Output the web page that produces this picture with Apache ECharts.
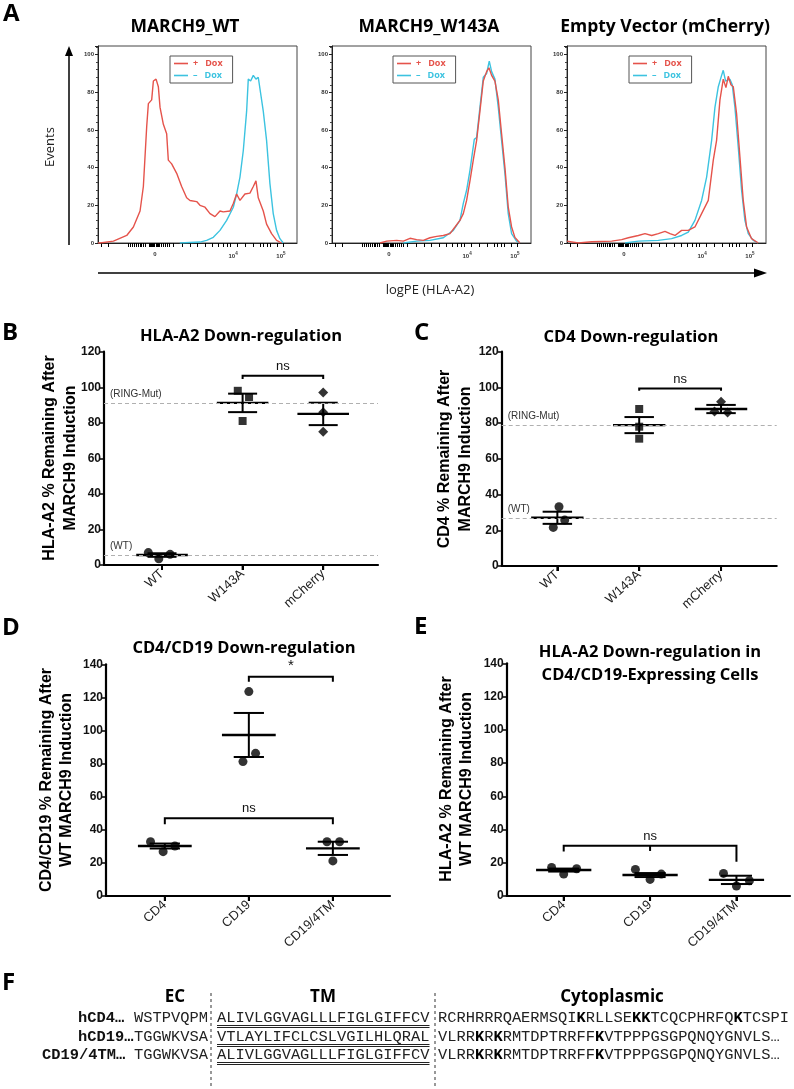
<!DOCTYPE html>
<html><head><meta charset="utf-8">
<script src="https://cdn.jsdelivr.net/npm/echarts@6/dist/echarts.min.js"></script>
<style>html,body{margin:0;padding:0;background:#fff}#c{width:794px;height:1089px}</style>
</head><body><div id="c"></div>
<script>
// ================= DATA =================
// Panel A: flow histograms, [display position on biexponential axis, events]
const histTitles = ['MARCH9_WT', 'MARCH9_W143A', 'Empty Vector (mCherry)'];
const histXTickLabels = ['0', '10^4', '10^5'];
const histYTickLabels = ['0', '20', '40', '60', '80', '100'];
const wtPlusDox = [[1.02,0],[1.065,0],[1.355,1],[1.645,4],[1.79,8.5],[1.935,17],[2.007,30],[2.08,62],[2.116,74],[2.188,76],[2.225,86],[2.283,87],[2.333,83],[2.37,72],[2.442,63],[2.514,58],[2.55,44],[2.623,42],[2.732,37],[2.84,30],[2.949,24],[3.022,22.6],[3.167,22],[3.239,20],[3.348,19],[3.457,15.6],[3.565,14],[3.674,17],[3.746,16.5],[3.891,17],[3.964,21],[4.036,26],[4.109,22.6],[4.217,26],[4.326,26.5],[4.399,30],[4.457,33],[4.507,24],[4.616,17],[4.688,10],[4.797,5],[4.906,1.4],[5.014,0]];
const wtMinusDox = [[2.8,0],[3.239,0.5],[3.384,1.4],[3.529,3],[3.674,6.7],[3.819,12],[3.964,19],[4.036,26],[4.109,35],[4.181,49],[4.254,70],[4.29,87],[4.341,86],[4.399,89],[4.457,87],[4.507,88],[4.543,87],[4.616,70],[4.688,54.5],[4.761,31.5],[4.833,15.6],[4.906,6.7],[4.978,2.3],[5.051,0]];
const w143aPlusDox = [[2.065,0],[2.21,1],[2.428,1.4],[2.572,1],[2.717,2.5],[2.862,1.8],[3.007,1.4],[3.152,2.8],[3.297,3.5],[3.442,4],[3.587,5],[3.696,8.5],[3.804,12],[3.877,15.6],[3.949,22.6],[4.022,33],[4.094,44],[4.167,54.5],[4.239,70],[4.312,86],[4.384,91],[4.435,93],[4.493,89],[4.565,86],[4.638,76],[4.71,58],[4.783,40],[4.855,19],[4.928,8.5],[5.0,3],[5.109,0]];
const w143aMinusDox = [[2.572,0],[2.862,1],[3.152,1.4],[3.442,2.8],[3.659,6.7],[3.804,12],[3.877,21],[3.949,28],[4.022,38.6],[4.116,55],[4.167,56],[4.239,72],[4.312,88],[4.384,90],[4.442,96.6],[4.493,91],[4.565,87],[4.638,72],[4.71,54.5],[4.783,36.8],[4.855,15.6],[4.928,5],[5.036,1],[5.109,0]];
const mchPlusDox = [[1.02,1],[1.268,0],[1.558,0.7],[1.993,1],[2.21,1.8],[2.355,2.8],[2.572,4],[2.717,5],[2.862,4],[3.007,5],[3.152,6.2],[3.261,5],[3.37,4],[3.514,6.7],[3.659,6.7],[3.804,8.5],[3.949,15.6],[4.094,22.6],[4.203,44],[4.275,54.5],[4.348,76],[4.42,87],[4.478,82.5],[4.529,88.5],[4.587,84],[4.638,83],[4.71,68.6],[4.783,45.6],[4.855,22.6],[4.928,8.5],[5.036,2.3],[5.181,0]];
const mchMinusDox = [[2.283,0],[2.572,1],[3.007,1.4],[3.297,2.3],[3.514,4],[3.659,5.8],[3.804,12],[3.949,22.6],[4.058,35],[4.167,54.5],[4.239,72],[4.312,83],[4.384,89],[4.42,91.7],[4.471,86],[4.514,85.5],[4.565,87],[4.616,84],[4.674,72],[4.746,51],[4.819,28],[4.891,12],[4.964,5],[5.072,1.4],[5.181,0]];

// Panels B-E: individual replicates, mean and SEM per category
const catsBC = ['WT', 'W143A', 'mCherry'];
const catsDE = ['CD4', 'CD19', 'CD19/4TM'];
const hlaValues = [[7, 3.5, 6], [98, 94.5, 81], [97, 86, 75]];
const hlaMean = [5.6, 91.2, 85];
const hlaSem = [1.0, 5.2, 6.3];
const hlaRefs = [91, 5.6];
const cd4Values = [[33.2, 25.7, 21.6], [87.9, 78, 71.3], [92, 86.5, 86]];
const cd4Mean = [27, 78.9, 87.9];
const cd4Sem = [3.4, 4.5, 2.3];
const cd4Refs = [78.9, 26.7];
const refLabels = ['(RING-Mut)', '(WT)'];
const chimValues = [[32.8, 26.8, 30.2], [123.5, 86.2, 81.2], [32.8, 32.8, 21.2]];
const chimMean = [30.2, 97.3, 28.8];
const chimSem = [1.5, 13.3, 4.0];
const hlaChimValues = [[17.2, 13.2, 16.4], [16, 10, 13.2], [13.6, 6, 9.2]];
const hlaChimMean = [15.6, 12.6, 9.7];
const hlaChimSem = [0.9, 1.2, 2.5];
// significance brackets: [fromCat, toCat, level]
const sigB = [[2, 3, 106.5]]; const sigBLabels = ['ns'];
const sigC = [[2, 3, 99.4]]; const sigCLabels = ['ns'];
const sigD = [[2, 3, 132.5], [1, 3, 47]]; const sigDLabels = ['*', 'ns'];
const sigE = [[1, 3, 30.3]]; const sigELabels = ['ns'];

// Panel F sequences
const seqLabels = ['hCD4\u2026', 'hCD19\u2026', 'CD19/4TM\u2026'];
const seqEC = ['WSTPVQPM', 'TGGWKVSA', 'TGGWKVSA'];
const seqTM = ['ALIVLGGVAGLLLFIGLGIFFCV', 'VTLAYLIFCLCSLVGILHLQRAL', 'ALIVLGGVAGLLLFIGLGIFFCV'];
const seqCyto = ['RCRHRRRQAERMSQI{b|K}RLLSE{b|KK}TCQCPHRFQ{b|K}TCSPI',
                 'VLRR{b|K}R{b|K}RMTDPTRRFF{b|K}VTPPPGSGPQNQYGNVLS\u2026',
                 'VLRR{b|K}R{b|K}RMTDPTRRFF{b|K}VTPPPGSGPQNQYGNVLS\u2026'];

// ================= LAYOUT / STYLE =================
const RED = '#E5534B', CYAN = '#3CC3E0';
const SANS = 'Liberation Sans', TF = 'Open Sans', MONO = 'Liberation Mono';
const histGrids = [{left: 98, top: 46, width: 199, height: 197}, {left: 332, top: 46, width: 199, height: 197}, {left: 567, top: 46, width: 199, height: 197}];
const histLegendPos = [[170, 56], [393, 56], [629, 56]];
const HIST_XLABEL_POS = [2.26, 3.96, 5.0];
const HIST_XTICK_POS = [1.10,1.24,1.67,1.72,1.76,1.80,1.85,1.89,1.93,1.97,2.0,2.04,2.13,2.15,2.17,2.19,2.21,2.23,2.25,2.28,2.31,2.33,2.36,2.39,2.43,2.48,2.52,2.57,2.65,2.85,3.02,3.17,3.35,3.5,3.63,3.74,3.83,3.89,4.04,4.22,4.39,4.54,4.61,4.7,4.76,4.91,5.04];

const dotPanels = [
  {grid: {left: 104, top: 351.7, width: 274, height: 213.3}, xr: [0.28, 3.68], ymax: 120, cats: catsBC, values: hlaValues, mean: hlaMean, sem: hlaSem, refs: hlaRefs, sym: ['circle', 'rect', 'diamond'], sig: sigB, sigL: sigBLabels, drops: [[1.9, 1.9]], jit: [[-0.17, -0.04, 0.1], [-0.06, 0.08, 0], [0, 0, 0]]},
  {grid: {left: 501.7, top: 351.7, width: 275, height: 214.3}, xr: [0.32, 3.68], ymax: 120, cats: catsBC, values: cd4Values, mean: cd4Mean, sem: cd4Sem, refs: cd4Refs, sym: ['circle', 'rect', 'diamond'], sig: sigC, sigL: sigCLabels, drops: [[1.2, 1.2]], jit: [[0.02, 0.09, -0.05], [0, 0, 0], [0, -0.08, 0.08]]},
  {grid: {left: 106, top: 664.3, width: 284, height: 231.7}, xr: [0.3, 3.68], ymax: 140, cats: catsDE, values: chimValues, mean: chimMean, sem: chimSem, refs: null, sym: ['circle', 'circle', 'circle'], sig: sigD, sigL: sigDLabels, drops: [[3, 3], [3.6, 3.6]], jit: [[-0.17, -0.02, 0.12], [0, 0.08, -0.07], [-0.07, 0.08, 0]]},
  {grid: {left: 506.7, top: 663.3, width: 283.3, height: 232.7}, xr: [0.34, 3.62], ymax: 140, cats: catsDE, values: hlaChimValues, mean: hlaChimMean, sem: hlaChimSem, refs: null, sym: ['circle', 'circle', 'circle'], sig: sigE, sigL: sigELabels, drops: [[3.6, 9.7]], mid: 3.2, jit: [[-0.14, 0, 0.15], [-0.17, 0, 0.13], [-0.15, 0, 0.15]]}
];

// ================= BUILD =================
const grids = [], xAxes = [], yAxes = [], series = [], legends = [], graphics = [];

histGrids.forEach((g, i) => {
  grids.push(Object.assign({show: true, borderColor: '#444', borderWidth: 1, backgroundColor: 'transparent'}, g));
  xAxes.push({gridIndex: i, type: 'value', min: 1.02, max: 5.35,
    axisLine: {onZero: false, lineStyle: {color: '#222', width: 1}},
    axisTick: {show: true, customValues: HIST_XTICK_POS, length: 4, lineStyle: {color: '#000', width: 1}},
    axisLabel: {customValues: HIST_XLABEL_POS, margin: 8, fontSize: 6, fontWeight: 'bold', color: '#333', fontFamily: SANS,
      formatter: v => { const k = HIST_XLABEL_POS.indexOf(v); const s = histXTickLabels[k] || ''; return s.indexOf('^') > 0 ? s.replace(/\^(\d+)/, '{s|$1}') : s; },
      rich: {s: {fontSize: 4.5, fontWeight: 'bold', color: '#333', verticalAlign: 'top', padding: [0, 0, 5, 0]}}},
    splitLine: {show: false}});
  yAxes.push({gridIndex: i, type: 'value', min: 0, max: 104.6, interval: 20,
    axisLine: {show: true, lineStyle: {color: '#222', width: 1}},
    axisTick: {show: true, length: 3, lineStyle: {color: '#222'}},
    minorTick: {show: true, splitNumber: 5, length: 2, lineStyle: {color: '#444'}},
    axisLabel: {showMaxLabel: false, margin: 4, fontSize: 6, fontWeight: 'bold', color: '#333', fontFamily: SANS, formatter: v => histYTickLabels[Math.round(v / 20)] || ''},
    splitLine: {show: false}});
});
const histSets = [[wtPlusDox, wtMinusDox], [w143aPlusDox, w143aMinusDox], [mchPlusDox, mchMinusDox]];
histSets.forEach((set, i) => {
  series.push({type: 'line', name: '\u2013 Dox', xAxisIndex: i, yAxisIndex: i, data: set[1], showSymbol: false, symbol: 'none', lineStyle: {color: CYAN, width: 1.4}, itemStyle: {color: CYAN}, z: 3});
  series.push({type: 'line', name: '+ Dox', xAxisIndex: i, yAxisIndex: i, data: set[0], showSymbol: false, symbol: 'none', lineStyle: {color: RED, width: 1.4}, itemStyle: {color: RED}, z: 4});
  legends.push({left: histLegendPos[i][0], top: histLegendPos[i][1], orient: 'vertical', selectedMode: false,
    data: [{name: '+ Dox', textStyle: {color: RED}}, {name: '\u2013 Dox', textStyle: {color: CYAN}}],
    formatter: n => n.replace(' ', '   '), icon: 'rect', itemWidth: 14, itemHeight: 1.6, itemGap: 3,
    padding: [3, 10, 3, 4], borderColor: '#555', borderWidth: 1, backgroundColor: '#fff',
    textStyle: {fontSize: 9, fontWeight: 'bold', fontFamily: TF, padding: [0, 0, 0, 0]}});
});

function meanSem(hw, cw) {
  return function (params, api) {
    const x = api.value(0), m = api.value(1), s = api.value(2);
    const a = api.coord([x - hw, m]), b = api.coord([x + hw, m]);
    const t = api.coord([x, m + s]), d = api.coord([x, m - s]);
    const t1 = api.coord([x - cw, m + s]), t2 = api.coord([x + cw, m + s]);
    const d1 = api.coord([x - cw, m - s]), d2 = api.coord([x + cw, m - s]);
    const base = api.coord([x, 0]);
    const st = {stroke: '#000', lineWidth: 2, fill: null};
    return {type: 'group', children: [
      {type: 'line', shape: {x1: a[0], y1: a[1], x2: b[0], y2: b[1]}, style: {stroke: '#000', lineWidth: 2.4}},
      {type: 'line', shape: {x1: t[0], y1: t[1], x2: d[0], y2: d[1]}, style: st},
      {type: 'line', shape: {x1: t1[0], y1: t1[1], x2: t2[0], y2: t2[1]}, style: st},
      {type: 'line', shape: {x1: d1[0], y1: d1[1], x2: d2[0], y2: d2[1]}, style: st},
      {type: 'line', shape: {x1: base[0], y1: base[1], x2: base[0], y2: base[1] + 5}, style: st}]};
  };
}
function bracket(p) {
  return function (params, api) {
    const i = params.dataIndex;
    const x1 = api.value(0), x2 = api.value(1), y = api.value(2);
    const dl = p.drops[i][0], dr = p.drops[i][1];
    const pts = [api.coord([x1, y - dl]), api.coord([x1, y]), api.coord([x2, y]), api.coord([x2, y - dr])];
    const c = api.coord([(x1 + x2) / 2, y]);
    const kids = [{type: 'polyline', shape: {points: pts}, style: {stroke: '#000', lineWidth: 2, fill: null}},
      {type: 'text', x: c[0], y: c[1] - 3, style: {text: p.sigL[i], textAlign: 'center', align: 'center', textVerticalAlign: 'bottom', verticalAlign: 'bottom', fontSize: p.sigL[i] === '*' ? 15 : 13, fontFamily: SANS, fill: '#111'}}];
    if (p.mid && x2 - x1 > 1) {
      const m1 = api.coord([(x1 + x2) / 2, y]), m2 = api.coord([(x1 + x2) / 2, y - p.mid]);
      kids.push({type: 'line', shape: {x1: m1[0], y1: m1[1], x2: m2[0], y2: m2[1]}, style: {stroke: '#000', lineWidth: 2}});
    }
    return {type: 'group', children: kids};
  };
}

dotPanels.forEach((p, k) => {
  const gi = 3 + k;
  grids.push(p.grid);
  xAxes.push({gridIndex: gi, type: 'value', min: p.xr[0], max: p.xr[1],
    axisLine: {onZero: false, lineStyle: {color: '#000', width: 2.2}},
    axisTick: {show: true, customValues: [1, 2, 3], length: 5, lineStyle: {color: '#000', width: 2}},
    axisLabel: {customValues: [1, 2, 3], rotate: 42, margin: 7, fontSize: 13, color: '#222', fontFamily: SANS, formatter: v => p.cats[Math.round(v) - 1]},
    splitLine: {show: false}});
  yAxes.push({gridIndex: gi, type: 'value', min: 0, max: p.ymax, interval: 20,
    axisLine: {show: true, lineStyle: {color: '#000', width: 2.2}},
    axisTick: {show: true, length: 4, lineStyle: {color: '#000', width: 1.5}},
    axisLabel: {margin: 3, fontSize: 12, fontWeight: 'bold', color: '#111', fontFamily: SANS},
    splitLine: {show: false}});
  p.values.forEach((vals, ci) => {
    const s = {type: 'scatter', xAxisIndex: gi, yAxisIndex: gi, symbol: p.sym[ci],
      symbolSize: p.sym[ci] === 'rect' ? 8 : (p.sym[ci] === 'diamond' ? 10 : 9),
      itemStyle: {color: '#000'}, z: 5,
      data: vals.map((v, j) => [ci + 1 + p.jit[ci][j], v])};
    if (ci === 0 && p.refs) {
      s.markLine = {silent: true, symbol: ['none', 'none'], animation: false,
        lineStyle: {type: [4, 3], color: '#b0b0b0', width: 1},
        label: {position: 'insideStartTop', distance: [6, 4], fontSize: 10, color: '#333', fontFamily: SANS},
        data: p.refs.map((r, ri) => ({yAxis: r, label: {formatter: refLabels[ri]}}))};
    }
    series.push(s);
  });
  series.push({type: 'custom', xAxisIndex: gi, yAxisIndex: gi, clip: false, z: 4,
    renderItem: meanSem(0.32, 0.18), encode: {x: 0, y: 1},
    data: p.mean.map((m, i) => [i + 1, m, p.sem[i]])});
  series.push({type: 'custom', xAxisIndex: gi, yAxisIndex: gi, clip: false, z: 4,
    renderItem: bracket(p), encode: {x: [0, 1], y: 2},
    data: p.sig.map(s => s.slice())});
});

// ---- graphic texts ----
function T(x, y, text, style, rot) {
  graphics.push({type: 'text', x: x, y: y, rotation: rot || 0, silent: true,
    style: Object.assign({text: text, textAlign: 'center', align: 'center', textVerticalAlign: 'middle', verticalAlign: 'middle', fill: '#111'}, style)});
}
const LET = {fontSize: 24, fontWeight: 'bold', fontFamily: TF, textAlign: 'left', align: 'left', fill: '#000'};
T(3, 14, 'A', LET); T(2, 333, 'B', LET); T(414, 333, 'C', LET); T(2, 628, 'D', LET); T(414, 627, 'E', LET); T(2, 983, 'F', LET);
const HT = {fontSize: 17.5, fontWeight: 'bold', fontFamily: TF, fill: '#000'};
T(185, 27, histTitles[0], HT); T(429, 27, histTitles[1], HT); T(665, 27, histTitles[2], HT);
T(50, 147, 'Events', {fontSize: 13, fontFamily: TF, fill: '#222'}, Math.PI / 2);
T(430, 290, 'logPE (HLA-A2)', {fontSize: 13, fontFamily: TF, fill: '#222'});
graphics.push({type: 'line', silent: true, shape: {x1: 69, y1: 245, x2: 69, y2: 54}, style: {stroke: '#000', lineWidth: 1.5}});
graphics.push({type: 'polygon', silent: true, shape: {points: [[69, 46], [65, 56], [73, 56]]}, style: {fill: '#000'}});
graphics.push({type: 'line', silent: true, shape: {x1: 98, y1: 273, x2: 756, y2: 273}, style: {stroke: '#000', lineWidth: 1.5}});
graphics.push({type: 'polygon', silent: true, shape: {points: [[767, 273], [754, 268.5], [754, 277.5]]}, style: {fill: '#000'}});

const PT = {fontSize: 16.5, fontWeight: 'bold', fontFamily: TF, fill: '#000'};
T(241, 336, 'HLA-A2 Down-regulation', PT);
T(631, 337, 'CD4 Down-regulation', PT);
T(244, 648, 'CD4/CD19 Down-regulation', PT);
T(650, 652, 'HLA-A2 Down-regulation in', PT);
T(650, 675, 'CD4/CD19-Expressing Cells', PT);
const YT = {fontSize: 16, fontWeight: 'bold', fontFamily: SANS, fill: '#000'};
const R90 = Math.PI / 2;
T(50, 458, 'HLA-A2 % Remaining After', YT, R90); T(71, 458, 'MARCH9 Induction', YT, R90);
T(445, 459, 'CD4 % Remaining After', YT, R90); T(466, 459, 'MARCH9 Induction', YT, R90);
T(47, 780, 'CD4/CD19 % Remaining After', YT, R90); T(67, 780, 'WT MARCH9 Induction', YT, R90);
T(447, 779, 'HLA-A2 % Remaining After', YT, R90); T(467, 779, 'WT MARCH9 Induction', YT, R90);

// ---- Panel F ----
const FH = {fontSize: 17, fontWeight: 'bold', fontFamily: TF, fill: '#000'};
T(175, 997, 'EC', FH); T(323, 997, 'TM', FH); T(612, 997, 'Cytoplasmic', FH);
const MFS = 15.4, CW = MFS * 0.6;
const rowY = [1018, 1037, 1055];
const labX = [78, 78, 42];
const MONO_N = {fontSize: MFS, fontFamily: MONO, textAlign: 'left', align: 'left', fill: '#222'};
rowY.forEach((y, r) => {
  T(labX[r], y, seqLabels[r], Object.assign({}, MONO_N, {fontWeight: 'bold', fill: '#111'}));
  T(134, y, seqEC[r], MONO_N);
  T(217, y, seqTM[r], MONO_N);
  T(438, y, seqCyto[r], Object.assign({}, MONO_N, {rich: {b: {fontSize: MFS, fontFamily: MONO, fontWeight: 'bold', fill: '#000'}}}));
  const w = seqTM[r].length * CW;
  graphics.push({type: 'line', silent: true, shape: {x1: 217, y1: y + 7.5, x2: 217 + w, y2: y + 7.5}, style: {stroke: '#222', lineWidth: 1}});
  graphics.push({type: 'line', silent: true, shape: {x1: 217, y1: y + 9.5, x2: 217 + w, y2: y + 9.5}, style: {stroke: '#222', lineWidth: 1}});
});
[211, 435].forEach(x => graphics.push({type: 'line', silent: true, shape: {x1: x, y1: 993, x2: x, y2: 1089}, style: {stroke: '#333', lineWidth: 1, lineDash: [3, 3]}}));

const chart = echarts.init(document.getElementById('c'), null, {renderer: 'canvas'});
chart.setOption({animation: false, backgroundColor: '#fff', grid: grids, xAxis: xAxes, yAxis: yAxes, series: series, legend: legends, graphic: {elements: graphics}});
</script></body></html>
